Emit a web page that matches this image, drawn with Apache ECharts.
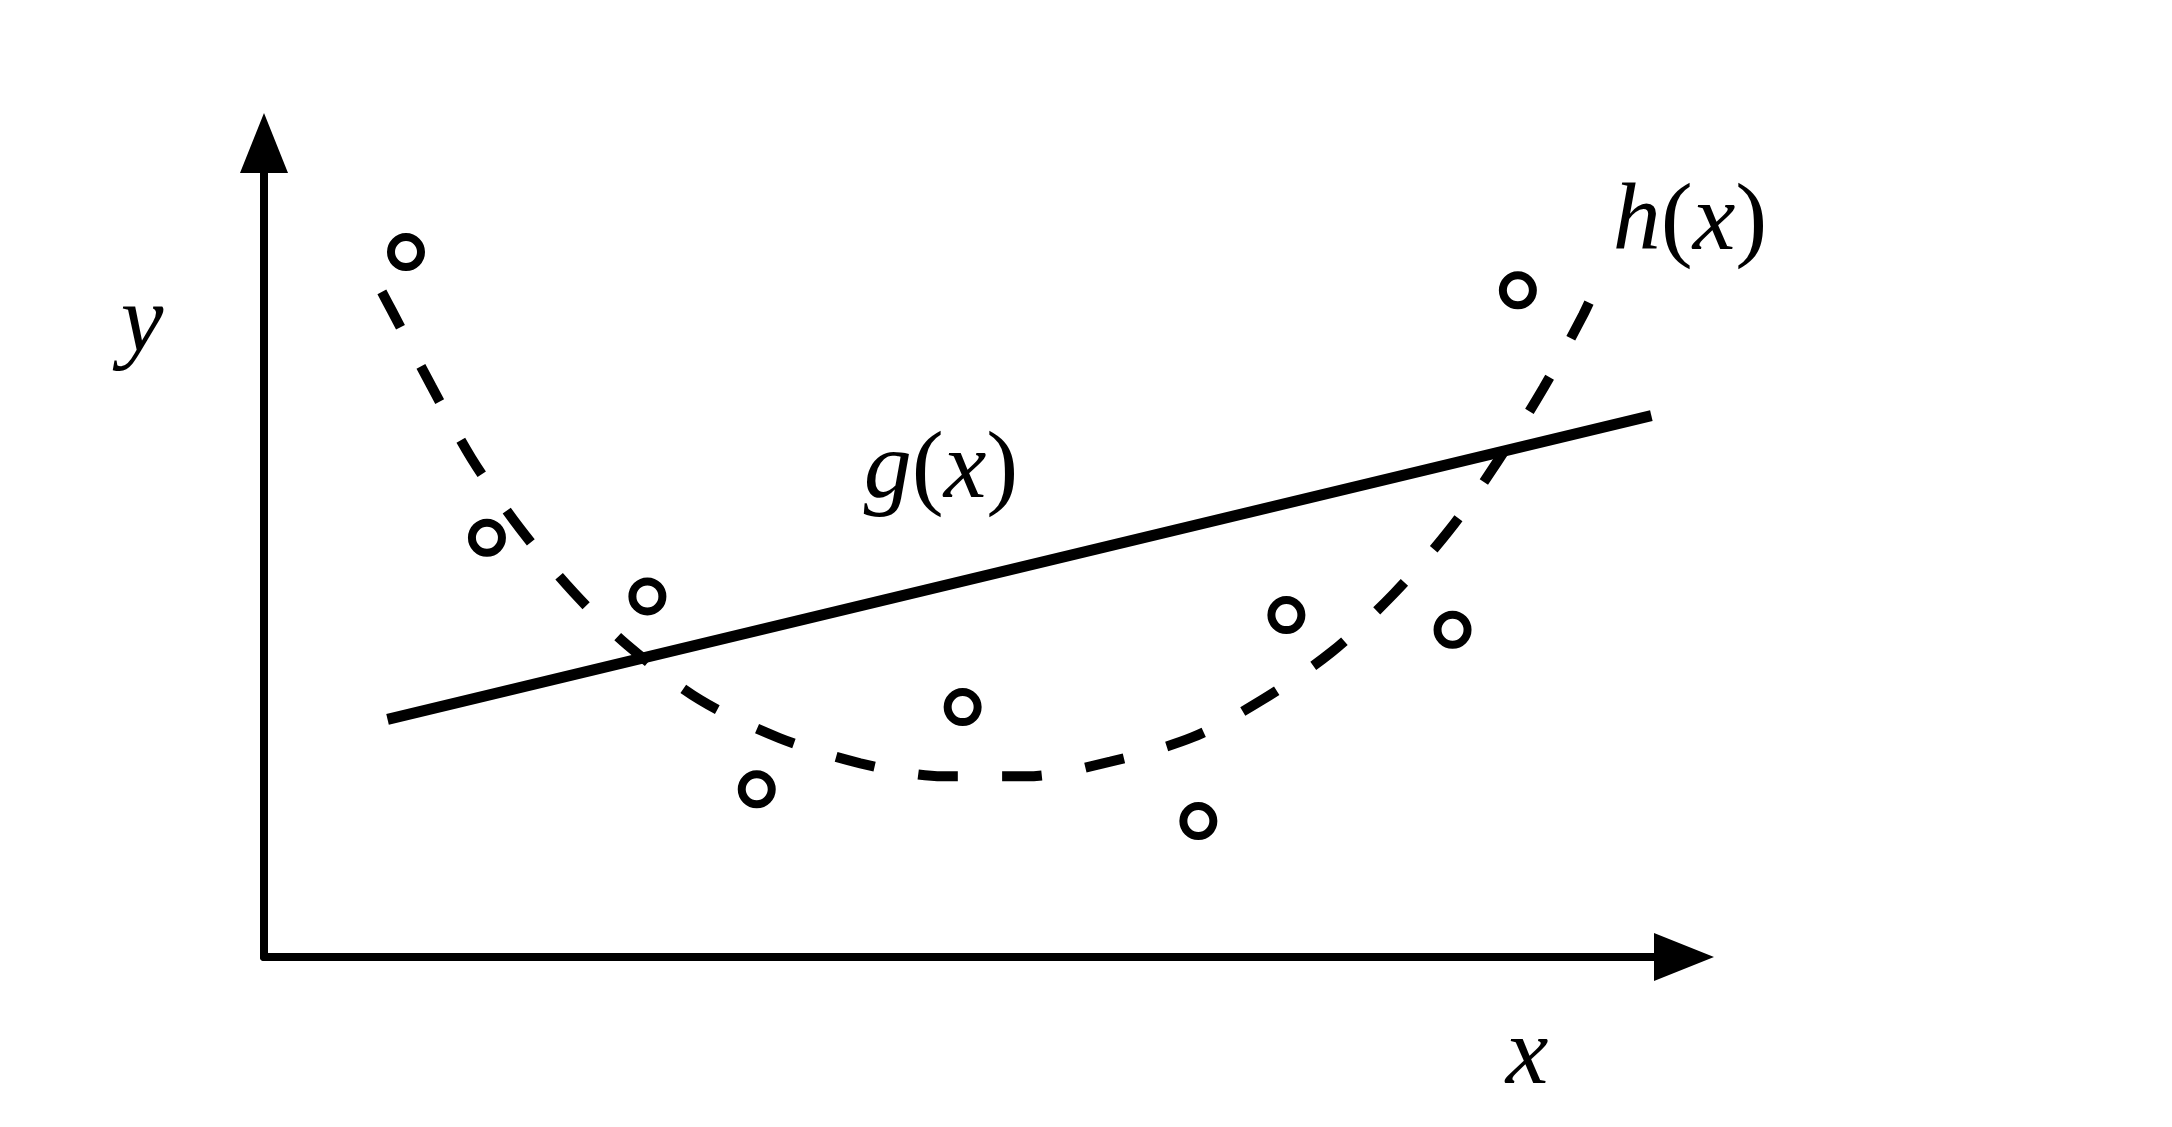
<!DOCTYPE html>
<html>
<head>
<meta charset="utf-8">
<title>g(x) und h(x)</title>
<script src="https://cdn.jsdelivr.net/npm/echarts@6.0.0/dist/echarts.min.js"></script>
<style>
  html, body { margin: 0; padding: 0; background: #fff; }
  #chart { width: 2172px; height: 1127px; }
</style>
</head>
<body>
<div id="chart"></div>
<script>
// Messpunkte (Kreise)
const pointX = [10.0, 15.7, 27.0, 34.7, 49.2, 65.8, 72.0, 83.7, 88.3]
const pointY = [86.6, 51.5, 44.3, 20.6, 30.7, 16.7, 42.0, 40.2, 81.9]

// g(x): Gerade
const gX = [8.7, 97.7]
const gY = [29.2, 66.5]

// h(x): gestrichelte Kurve
const hX = [8.3, 9.0, 11.8, 14.6, 18.0, 21.8, 25.6, 30.7, 36.3, 42.0, 47.8, 53.7,
  59.6, 65.4, 70.3, 75.2, 79.6, 83.5, 86.8, 90.1, 92.9, 93.7]
const hY = [81.7, 79.4, 70.1, 61.3, 52.7, 44.8, 38.3, 31.6, 26.9, 23.8, 22.2, 22.2,
  24.0, 27.0, 31.6, 37.5, 44.7, 52.5, 60.7, 69.9, 78.9, 81.9]

const axisNames = ['x', 'y']
const curveNames = ['g', 'h']

const zip = (xs, ys) => xs.map((x, i) => [x, ys[i]])

const chart = echarts.init(document.getElementById('chart'))

const serif = '"Liberation Serif", "DejaVu Serif", serif'
const mathRich = {
  i: { fontFamily: serif, fontStyle: 'italic', fontSize: 96, fill: '#000' },
  n: { fontFamily: serif, fontSize: 96, fill: '#000' }
}
const fnLabel = name => '{i|' + name + '}{n|(}{i|x}{n|)}'

const axisCommon = {
  type: 'value',
  min: 0,
  max: 100,
  axisLine: {
    show: true,
    symbol: ['none', 'triangle'],
    symbolSize: [48, 60],
    lineStyle: { color: '#000', width: 8 }
  },
  axisTick: { show: false },
  axisLabel: { show: false },
  splitLine: { show: false }
}

const option = {
  animation: false,
  backgroundColor: '#fff',
  grid: { left: 264, right: 488, top: 143, bottom: 170 },
  xAxis: axisCommon,
  yAxis: axisCommon,
  graphic: [
    {
      type: 'text', x: 941, y: 472,
      style: { text: fnLabel(curveNames[0]), rich: mathRich, align: 'center', verticalAlign: 'middle' }
    },
    {
      type: 'text', x: 1690, y: 224,
      style: { text: fnLabel(curveNames[1]), rich: mathRich, align: 'center', verticalAlign: 'middle' }
    },
    {
      type: 'text', x: 1527, y: 1058,
      style: { text: '{i|' + axisNames[0] + '}', rich: mathRich, align: 'center', verticalAlign: 'middle' }
    },
    {
      type: 'text', x: 142, y: 326,
      style: { text: '{i|' + axisNames[1] + '}', rich: mathRich, align: 'center', verticalAlign: 'middle' }
    }
  ],
  series: [
    {
      name: 'h(x)',
      type: 'line',
      data: zip(hX, hY),
      smooth: 0.3,
      showSymbol: false,
      lineStyle: { color: '#000', width: 10, type: [40, 44], cap: 'butt' }
    },
    {
      name: 'g(x)',
      type: 'line',
      data: zip(gX, gY),
      showSymbol: false,
      lineStyle: { color: '#000', width: 11 }
    },
    {
      name: 'Punkte',
      type: 'scatter',
      data: zip(pointX, pointY),
      symbol: 'circle',
      symbolSize: 30,
      itemStyle: { color: '#fff', borderColor: '#000', borderWidth: 8, opacity: 1 },
      z: 5
    }
  ]
}

chart.setOption(option)
</script>
</body>
</html>
